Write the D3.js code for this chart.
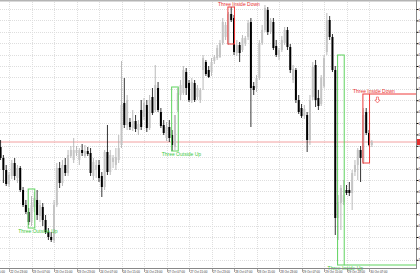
<!DOCTYPE html>
<html>
<head>
<meta charset="utf-8">
<script src="https://d3js.org/d3.v7.min.js"></script>
<style>
html, body { margin: 0; padding: 0; background: #fff; overflow: hidden; }
</style>
</head>
<body>
<div id="CandleChart"></div>
<script>
// H1 bars, bar 0 = 22 Oct 23:00, first bar is 22 Oct 20:00 (bar -3)
const firstBar = -3;

const opens = [1.2753,1.2742,1.2730,1.2716,1.2724,1.2737,1.2722,1.2732,1.2710,1.2695,1.2688,1.2678,1.2693,1.2700,1.2684,1.2693,1.2680,1.2668,1.2663,1.2660,1.2695,1.2732,1.2717,1.2735,1.2727,1.2744,1.2740,1.2747,1.2740,1.2750,1.2744,1.2749,1.2747,1.2724,1.2730,1.2735,1.2724,1.2713,1.2748,1.2728,1.2738,1.2735,1.2740,1.2755,1.2797,1.2775,1.2778,1.2772,1.2779,1.2770,1.2790,1.2783,1.2795,1.2772,1.2803,1.2790,1.2812,1.2788,1.2775,1.2762,1.2773,1.2765,1.2753,1.2790,1.2805,1.2807,1.2828,1.2817,1.2800,1.2817,1.2803,1.2800,1.2830,1.2838,1.2830,1.2828,1.2839,1.2842,1.2843,1.2857,1.2863,1.2856,1.2886,1.2882,1.2847,1.2855,1.2850,1.2857,1.2863,1.2878,1.2814,1.2812,1.2822,1.2857,1.2870,1.2890,1.2868,1.2878,1.2854,1.2843,1.2850,1.2857,1.2870,1.2853,1.2820,1.2830,1.2800,1.2792,1.2784,1.2785,1.2760,1.2803,1.2835,1.2802,1.2796,1.2814,1.2848,1.2880,1.2863,1.2830,1.2682,1.2697,1.2698,1.2710,1.2710,1.2707,1.2728,1.2735,1.2750,1.2738,1.2788,1.2767,1.2755];
const highs = [1.2760,1.2745,1.2735,1.2728,1.2740,1.2742,1.2735,1.2734,1.2713,1.2700,1.2692,1.2704,1.2708,1.2710,1.2700,1.2697,1.2685,1.2672,1.2668,1.2700,1.2737,1.2738,1.2740,1.2742,1.2750,1.2754,1.2762,1.2754,1.2752,1.2756,1.2755,1.2753,1.2752,1.2742,1.2740,1.2740,1.2728,1.2750,1.2775,1.2750,1.2745,1.2752,1.2765,1.2839,1.2822,1.2805,1.2782,1.2790,1.2785,1.2780,1.2800,1.2802,1.2800,1.2805,1.2812,1.2835,1.2818,1.2792,1.2780,1.2778,1.2780,1.2770,1.2772,1.2812,1.2820,1.2834,1.2832,1.2820,1.2822,1.2820,1.2815,1.2812,1.2845,1.2840,1.2834,1.2842,1.2845,1.2855,1.2860,1.2882,1.2878,1.2888,1.2893,1.2885,1.2860,1.2858,1.2865,1.2864,1.2880,1.2882,1.2818,1.2825,1.2860,1.2875,1.2895,1.2893,1.2882,1.2882,1.2860,1.2852,1.2864,1.2873,1.2873,1.2856,1.2835,1.2832,1.2805,1.2796,1.2795,1.2788,1.2805,1.2838,1.2840,1.2810,1.2825,1.2845,1.2887,1.2884,1.2866,1.2834,1.2705,1.2715,1.2720,1.2715,1.2718,1.2730,1.2740,1.2752,1.2754,1.2792,1.2792,1.2770,1.2760];
const lows = [1.2740,1.2717,1.2714,1.2713,1.2721,1.2720,1.2717,1.2708,1.2693,1.2686,1.2675,1.2674,1.2688,1.2680,1.2678,1.2674,1.2666,1.2660,1.2658,1.2657,1.2693,1.2712,1.2714,1.2724,1.2724,1.2742,1.2737,1.2744,1.2735,1.2744,1.2742,1.2744,1.2724,1.2720,1.2722,1.2718,1.2703,1.2710,1.2725,1.2725,1.2732,1.2730,1.2737,1.2752,1.2772,1.2770,1.2770,1.2769,1.2768,1.2765,1.2770,1.2780,1.2768,1.2770,1.2785,1.2788,1.2788,1.2772,1.2765,1.2759,1.2758,1.2749,1.2750,1.2788,1.2800,1.2805,1.2805,1.2798,1.2797,1.2798,1.2800,1.2797,1.2810,1.2824,1.2822,1.2824,1.2836,1.2840,1.2842,1.2855,1.2860,1.2855,1.2878,1.2845,1.2844,1.2838,1.2848,1.2854,1.2860,1.2773,1.2805,1.2808,1.2820,1.2855,1.2868,1.2865,1.2866,1.2850,1.2843,1.2840,1.2848,1.2855,1.2850,1.2827,1.2817,1.2797,1.2786,1.2782,1.2781,1.2748,1.2755,1.2800,1.2793,1.2790,1.2794,1.2812,1.2845,1.2860,1.2828,1.2665,1.2660,1.2670,1.2695,1.2705,1.2704,1.2690,1.2724,1.2720,1.2718,1.2736,1.2765,1.2754,1.2753];
const closes = [1.2742,1.2730,1.2716,1.2725,1.2737,1.2724,1.2732,1.2710,1.2695,1.2688,1.2678,1.2695,1.2702,1.2685,1.2695,1.2680,1.2668,1.2663,1.2660,1.2695,1.2732,1.2717,1.2735,1.2727,1.2745,1.2750,1.2750,1.2750,1.2750,1.2747,1.2749,1.2746,1.2727,1.2738,1.2735,1.2722,1.2713,1.2748,1.2728,1.2745,1.2742,1.2743,1.2752,1.2795,1.2775,1.2800,1.2773,1.2779,1.2771,1.2776,1.2773,1.2797,1.2772,1.2800,1.2787,1.2815,1.2790,1.2774,1.2767,1.2773,1.2762,1.2755,1.2785,1.2807,1.2815,1.2830,1.2812,1.2800,1.2818,1.2800,1.2812,1.2810,1.2842,1.2826,1.2823,1.2838,1.2843,1.2852,1.2857,1.2878,1.2875,1.2886,1.2880,1.2848,1.2855,1.2847,1.2862,1.2862,1.2877,1.2812,1.2810,1.2822,1.2857,1.2870,1.2892,1.2868,1.2880,1.2852,1.2845,1.2850,1.2860,1.2870,1.2853,1.2830,1.2831,1.2800,1.2788,1.2784,1.2791,1.2760,1.2800,1.2833,1.2800,1.2794,1.2822,1.2842,1.2880,1.2863,1.2830,1.2682,1.2698,1.2712,1.2705,1.2707,1.2707,1.2727,1.2735,1.2750,1.2742,1.2785,1.2767,1.2755,1.2758];

// time axis, one label every 8 bars
const timeLabels = ["22 Oct 15:00","22 Oct 23:00","23 Oct 07:00","23 Oct 15:00","23 Oct 23:00","24 Oct 07:00","24 Oct 15:00","24 Oct 23:00","27 Oct 07:00","27 Oct 15:00","27 Oct 23:00","28 Oct 07:00","28 Oct 15:00","28 Oct 23:00","29 Oct 07:00","29 Oct 15:00","29 Oct 23:00","30 Oct 07:00"];
const timeBars = [-8,0,8,16,24,32,40,48,56,64,72,80,88,96,104,112,120,128];

// price grid levels
const priceTicks = [1.28910,1.28796,1.28682,1.28568,1.28454,1.28340,1.28226,1.28112,1.27998,1.27884,1.27770,1.27656,1.27542,1.27428,1.27314,1.27200,1.27086,1.26972,1.26858,1.26744,1.26630,1.26516,1.26402];

// candle patterns found (first bar of each)
const patternNames = ["Three Outside Up","Three Outside Up","Three Inside Down","Three Inside Up","Three Inside Down"];
const patternBars = [7,58,78,117,126];
const patternHighs = [1.2711,1.2813,1.2893,1.2845,1.2806];
const patternLows = [1.2672,1.2749,1.2856,1.2635,1.2737];
const patternBull = [true,true,false,true,false];

let CandleChart = () => {

    let width = 420;
    let height = 280;
    let plotRight = 416;
    let plotBottom = 268;

    let bars = opens.map((o, i) => {
        return {bar: firstBar + i, o: o, h: highs[i], l: lows[i], c: closes[i]};
    });

    let x = d3.scaleLinear()
        .domain([-3.2, 144.7])
        .range([0, plotRight]);

    let y = d3.scaleLinear()
        .domain([1.2632, 1.2900])
        .range([plotBottom, 0]);

    let svg = d3.select('#CandleChart')
        .append('svg')
        .attr('width', width)
        .attr('height', height)
        .style('font-family', '"Liberation Sans", Arial, sans-serif');

    // grid
    svg.append('g')
        .selectAll('line')
        .data(priceTicks)
        .enter().append('line')
            .attr('x1', 0)
            .attr('x2', plotRight)
            .attr('y1', (d) => { return Math.round(y(d)) + 0.5; })
            .attr('y2', (d) => { return Math.round(y(d)) + 0.5; })
            .attr('stroke', '#dedede')
            .attr('stroke-dasharray', '1,1');

    svg.append('g')
        .selectAll('line')
        .data(timeBars)
        .enter().append('line')
            .attr('x1', (d) => { return Math.round(x(d)) + 0.5; })
            .attr('x2', (d) => { return Math.round(x(d)) + 0.5; })
            .attr('y1', 2)
            .attr('y2', plotBottom)
            .attr('stroke', '#dedede')
            .attr('stroke-dasharray', '1,1');

    // current price line
    let last = closes[closes.length - 1];
    svg.append('line')
        .attr('x1', 0)
        .attr('x2', plotRight)
        .attr('y1', y(last))
        .attr('y2', y(last))
        .attr('stroke', '#f2a0a0')
        .attr('stroke-width', 1);

    // candles
    let bw = 2;
    let g = svg.append('g');

    g.selectAll('.wick')
        .data(bars)
        .enter().append('line')
            .attr('x1', (d) => { return x(d.bar); })
            .attr('x2', (d) => { return x(d.bar); })
            .attr('y1', (d) => { return y(d.h); })
            .attr('y2', (d) => { return y(d.l); })
            .attr('stroke', (d) => { return d.c >= d.o ? '#a8a8a8' : '#000'; })
            .attr('stroke-width', 0.8);

    g.selectAll('.body')
        .data(bars)
        .enter().append('rect')
            .attr('x', (d) => { return x(d.bar) - bw / 2; })
            .attr('y', (d) => { return y(Math.max(d.o, d.c)); })
            .attr('width', bw)
            .attr('height', (d) => { return Math.max(1, Math.abs(y(d.o) - y(d.c))); })
            .attr('fill', (d) => { return d.c >= d.o ? '#c4c4c4' : '#000'; });

    // pattern boxes and names
    let pats = patternNames.map((n, i) => {
        return {name: n, bar: patternBars[i], hi: patternHighs[i], lo: patternLows[i], bull: patternBull[i]};
    });

    let pg = svg.append('g');

    pg.selectAll('rect')
        .data(pats)
        .enter().append('rect')
            .attr('x', (d) => { return x(d.bar) - 0.5; })
            .attr('y', (d) => { return y(d.hi); })
            .attr('width', (d) => { return x(d.bar + 2) - x(d.bar) + 1; })
            .attr('height', (d) => { return y(d.lo) - y(d.hi); })
            .attr('fill', 'none')
            .attr('stroke', (d) => { return d.bull ? '#5fd35f' : '#ee3b3b'; })
            .attr('stroke-width', 1);

    pg.selectAll('text')
        .data(pats)
        .enter().append('text')
            .attr('x', (d) => { return x(d.bar) - 10.5; })
            .attr('y', (d) => { return d.bull ? y(d.lo) + 5 : y(d.hi) - 1.5; })
            .attr('font-size', 5)
            .attr('fill', (d) => { return d.bull ? '#3cc83c' : '#e83030'; })
            .text((d) => { return d.name; });

    // levels drawn from the latest two patterns
    let up = pats[3];
    let down = pats[4];
    pg.append('line')
        .attr('x1', x(up.bar + 2) + 0.5)
        .attr('x2', plotRight)
        .attr('y1', y(up.lo))
        .attr('y2', y(up.lo))
        .attr('stroke', '#5fd35f');
    pg.append('line')
        .attr('x1', x(down.bar + 2) + 0.5)
        .attr('x2', plotRight)
        .attr('y1', y(down.hi))
        .attr('y2', y(down.hi))
        .attr('stroke', '#ee3b3b');

    // hollow down arrow under the level
    let ax = x(down.bar + 5);
    let ay = y(down.hi) + 3;
    pg.append('path')
        .attr('d', `M${ax - 1},${ay} h2 v3 h1.5 l-2.5,3 l-2.5,-3 h1.5 z`)
        .attr('fill', '#fff')
        .attr('stroke', '#ee3b3b')
        .attr('stroke-width', 0.6);

    // frame
    svg.append('rect')
        .attr('x', 0)
        .attr('y', 0)
        .attr('width', width)
        .attr('height', 1.5)
        .attr('fill', '#b4b4b4');

    svg.append('line')
        .attr('x1', plotRight + 0.5)
        .attr('x2', plotRight + 0.5)
        .attr('y1', 0)
        .attr('y2', plotBottom + 1)
        .attr('stroke', '#888');

    svg.append('line')
        .attr('x1', 0)
        .attr('x2', plotRight + 1)
        .attr('y1', plotBottom + 0.5)
        .attr('y2', plotBottom + 0.5)
        .attr('stroke', '#888');

    // all y axis code, labels run off the right edge like the terminal window
    let yAxis = d3.axisRight(y)
        .tickValues(priceTicks)
        .tickSize(2)
        .tickFormat(d3.format('.5f'));

    svg.append('g')
        .attr('transform', 'translate(' + (plotRight + 0.5) + ',0)')
        .call(yAxis)
        .call((a) => { a.select('.domain').remove(); })
        .selectAll('text')
            .attr('x', 2)
            .attr('font-size', 3.2)
            .attr('fill', '#333');

    // price marker on the axis
    svg.append('rect')
        .attr('x', plotRight + 1)
        .attr('y', y(last) - 3)
        .attr('width', 6)
        .attr('height', 6)
        .attr('fill', '#e53030');

    // all x axis code
    let tg = svg.append('g');
    tg.selectAll('line')
        .data(timeBars)
        .enter().append('line')
            .attr('x1', (d) => { return Math.round(x(d)) + 0.5; })
            .attr('x2', (d) => { return Math.round(x(d)) + 0.5; })
            .attr('y1', plotBottom + 1)
            .attr('y2', plotBottom + 4)
            .attr('stroke', '#666')
            .attr('stroke-width', 0.6);

    tg.selectAll('text')
        .data(timeBars)
        .enter().append('text')
            .attr('x', (d) => { return x(d) + 1.2; })
            .attr('y', plotBottom + 5)
            .attr('font-size', 3)
            .attr('fill', '#333')
            .text((d, i) => { return timeLabels[i]; });
};

CandleChart();
</script>
</body>
</html>
